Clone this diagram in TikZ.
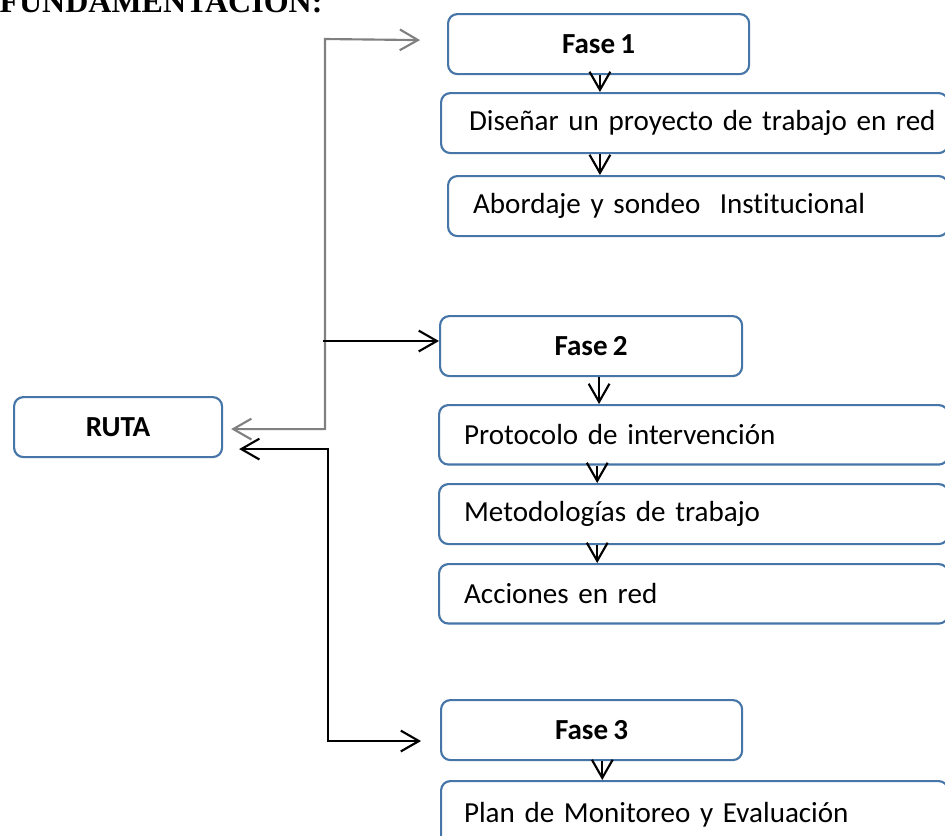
\documentclass[tikz,border=0pt]{standalone}
\usepackage{fontspec}
\setmainfont{Carlito}[Ligatures=NoCommon, WordSpace=0.8]
\newfontfamily\timesfont{Liberation Serif}
\usetikzlibrary{arrows.meta}
\newcommand\fsz{\fontsize{10.9}{13}\selectfont}
\definecolor{boxblue}{RGB}{70,117,168}
\definecolor{linegray}{RGB}{128,128,128}
\tikzset{
  box/.style={draw=boxblue, line width=0.8pt, rounded corners=3.5pt, inner sep=0pt,
              anchor=north west, font=\fsz, text=black},
  phase/.style={box, font=\fsz\bfseries, minimum height=22.5pt},
  wide/.style={box, align=left, inner xsep=9.4pt, text width=172.1pt, minimum height=22.3pt},
  arr/.style={line width=0.8pt, -{Straight Barb[length=6.8pt,width=7.8pt,line width=0.8pt]}},
  arrboth/.style={line width=0.8pt, {Straight Barb[length=6.8pt,width=7.8pt,line width=0.8pt]}-{Straight Barb[length=6.8pt,width=7.8pt,line width=0.8pt]}}
}
\begin{document}
\begin{tikzpicture}[x=0.375pt, y=-0.375pt]
\useasboundingbox (0,0) rectangle (945,835);

% title (cut off at top edge)
\node[anchor=base west, inner sep=0pt, font=\timesfont\fontsize{12}{14}\selectfont\bfseries] (title) at (-1,12) {FUNDAMENTACIÓN:};

% left box
\node[phase, minimum width=78pt] (ruta) at (13,396) {RUTA};

% Fase 1 group
\node[phase, minimum width=112.9pt] (f1) at (447,13) {Fase 1};
\node[wide, inner xsep=10.5pt, text width=169.1pt, minimum height=22.5pt] (d1) at (440,92) {\mbox{Diseñar un proyecto de trabajo en red}};
\node[wide, text width=168.7pt, minimum height=22.5pt] (d2) at (447,175) {\mbox{Abordaje y sondeo\ \ Institucional}};

% Fase 2 group
\node[phase, minimum width=113.25pt] (f2) at (439,315) {Fase 2};
\node[wide] (p1) at (438,404) {\mbox{Protocolo de intervención}};
\node[wide, minimum height=22.5pt] (p2) at (438,483) {\mbox{Metodologías de trabajo}};
\node[wide] (p3) at (438,563) {\mbox{Acciones en red}};

% Fase 3 group
\node[phase, minimum width=112.9pt] (f3) at (440,699) {Fase 3};
\node[wide, inner xsep=8.6pt, text width=172.9pt, minimum height=25pt] (e1) at (440,780) {\mbox{Plan de Monitoreo y Evaluación}};

% vertical arrows
\draw[arr] ([xshift=0.5pt]f1.south) -- ([xshift=0.5pt]f1.south |- d1.north);
\draw[arr] ([xshift=0.5pt]f1.south |- d1.south) -- ([xshift=0.5pt]f1.south |- d2.north);
\draw[arr] ([xshift=3pt]f2.south) -- ([xshift=3pt]f2.south |- p1.north);
\draw[arr] ([xshift=2.3pt]f2.south |- p1.south) -- ([xshift=2.3pt]f2.south |- p2.north);
\draw[arr] ([xshift=2.3pt]f2.south |- p2.south) -- ([xshift=2.3pt]f2.south |- p3.north);
\draw[arr] ([xshift=4pt]f3.south) -- ([xshift=4pt]f3.south |- e1.north);

% connectors on the left
\coordinate (gtop) at (325,39);
\coordinate (b2start) at (323,341);
\coordinate (bcorner) at (328,741);
\draw[arrboth, draw=linegray] ([xshift=3pt,yshift=-0.75pt]ruta.east) -| (gtop) -- ([xshift=-10.1pt,yshift=1.5pt]f1.west);
\draw[arr] (b2start) -- (b2start -| f2.west);
\draw[arrboth] ([xshift=6pt,yshift=-8.25pt]ruta.east) -| (bcorner) -- ([xshift=-7.1pt]bcorner -| f3.west);
\end{tikzpicture}
\end{document}
